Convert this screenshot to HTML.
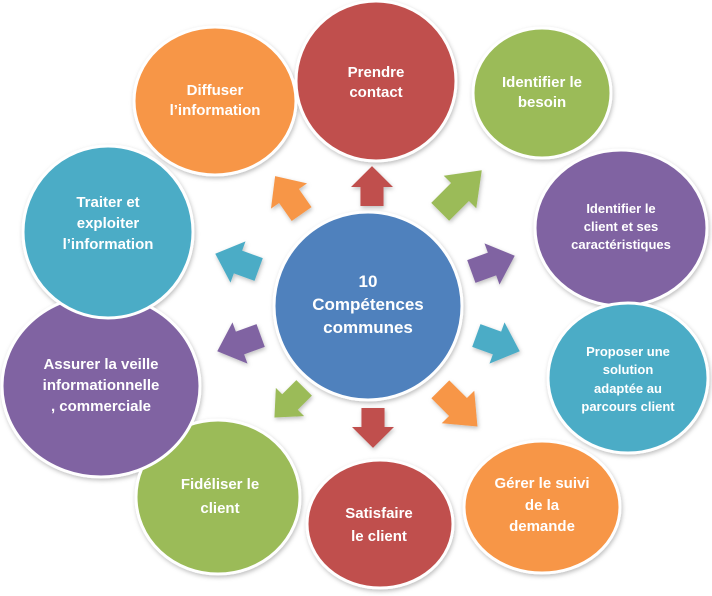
<!DOCTYPE html>
<html><head><meta charset="utf-8"><style>
html,body{margin:0;padding:0;background:#fff;}
svg{display:block;}
text{font-family:"Liberation Sans",sans-serif;font-weight:bold;fill:#fff;text-anchor:middle;}
</style></head><body>
<svg width="712" height="596" viewBox="0 0 712 596" xmlns="http://www.w3.org/2000/svg">
<defs>
<filter id="sh" x="-20%" y="-20%" width="140%" height="140%"><feDropShadow dx="1" dy="2" stdDeviation="2" flood-color="#000" flood-opacity="0.25"/></filter>
<path id="ar" d="M-20,-11 L0,-11 L0,-20 L22,0 L0,20 L0,11 L-20,11 Z"/>
</defs>
<g stroke="#fff" stroke-width="3" filter="url(#sh)">
<ellipse cx="215" cy="101" rx="81" ry="74" fill="#f79646"/>
<ellipse cx="376" cy="81" rx="80" ry="80" fill="#c0504d"/>
<ellipse cx="542" cy="93" rx="69" ry="65" fill="#9bbb59"/>
<ellipse cx="621" cy="228" rx="86" ry="78" fill="#8064a2"/>
<ellipse cx="628" cy="378" rx="80" ry="75" fill="#4bacc6"/>
<ellipse cx="542" cy="507" rx="78" ry="66" fill="#f79646"/>
<ellipse cx="380" cy="524" rx="73" ry="64" fill="#c0504d"/>
<ellipse cx="218" cy="497" rx="82" ry="77" fill="#9bbb59"/>
<ellipse cx="101" cy="386" rx="99" ry="91" fill="#8064a2"/>
<ellipse cx="108" cy="232" rx="85" ry="86" fill="#4bacc6"/>
<ellipse cx="368" cy="306" rx="94" ry="94" fill="#4f81bd"/>
</g>
<g filter="url(#sh)">
<use href="#ar" fill="#c0504d" transform="translate(372,187) rotate(-90) scale(0.95,1.05)"/>
<use href="#ar" fill="#f79646" transform="translate(289,196) rotate(-125) scale(1.1)"/>
<use href="#ar" fill="#9bbb59" transform="translate(460,192) rotate(-45) scale(1.4,1.15)"/>
<use href="#ar" fill="#8064a2" transform="translate(492,264) rotate(-20) scale(1.1)"/>
<use href="#ar" fill="#4bacc6" transform="translate(497,343) rotate(20) scale(1.1)"/>
<use href="#ar" fill="#f79646" transform="translate(458,407) rotate(45) scale(1.25,1.15)"/>
<use href="#ar" fill="#c0504d" transform="translate(373,427) rotate(90) scale(0.95,1.05)"/>
<use href="#ar" fill="#9bbb59" transform="translate(290,402) rotate(135) scale(1)"/>
<use href="#ar" fill="#8064a2" transform="translate(240,343) rotate(160) scale(1.1)"/>
<use href="#ar" fill="#4bacc6" transform="translate(238,262) rotate(-160) scale(1.1)"/>
</g>
<g font-size="15">
<text x="215" y="95">Diffuser</text><text x="215" y="115">l’information</text>
<text x="376" y="77">Prendre</text><text x="376" y="97">contact</text>
<text x="542" y="87">Identifier le</text><text x="542" y="107">besoin</text>
<text x="108" y="207">Traiter et</text><text x="108" y="228">exploiter</text><text x="108" y="249">l’information</text>
<text x="101" y="369">Assurer la veille</text><text x="101" y="390">informationnelle</text><text x="101" y="411">, commerciale</text>
<text x="220" y="489">Fidéliser le</text><text x="220" y="513">client</text>
<text x="379" y="518">Satisfaire</text><text x="379" y="541">le client</text>
<text x="542" y="488">Gérer le suivi</text><text x="542" y="510">de la</text><text x="542" y="531">demande</text>
<text x="368" y="287" font-size="17">10</text><text x="368" y="310" font-size="17">Compétences</text><text x="368" y="333" font-size="17">communes</text>
</g>
<g font-size="13">
<text x="621" y="213">Identifier le</text><text x="621" y="231">client et ses</text><text x="621" y="249">caractéristiques</text>
<text x="628" y="356">Proposer une</text><text x="628" y="374">solution</text><text x="628" y="393">adaptée au</text><text x="628" y="411">parcours client</text>
</g>
</svg>
</body></html>
